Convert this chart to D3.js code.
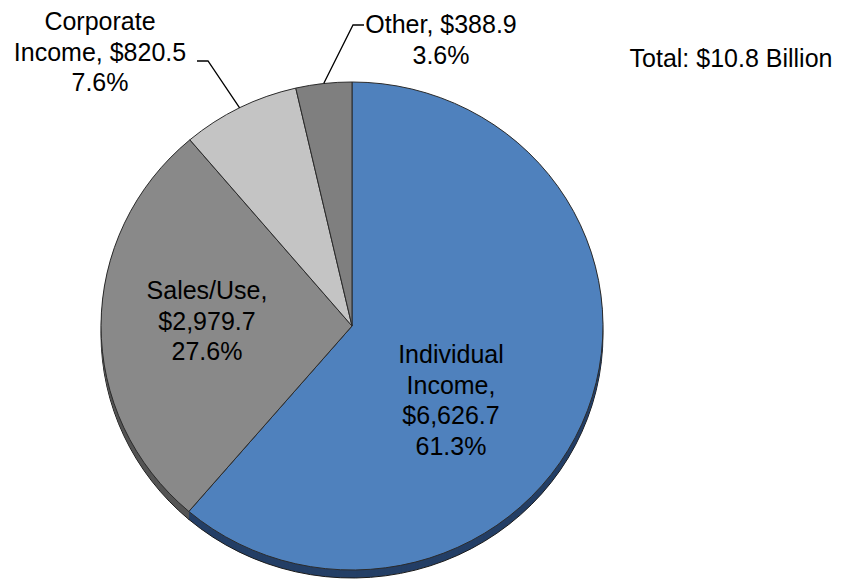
<!DOCTYPE html>
<html>
<head>
<meta charset="utf-8">
<script src="https://cdn.jsdelivr.net/npm/d3@7"></script>
<style>
  html, body { margin: 0; padding: 0; background: #ffffff; }
  svg { display: block; }
  text { font-family: "Liberation Sans", Arial, sans-serif; fill: #000; }
</style>
</head>
<body>
<svg id="chart" width="848" height="582"></svg>
<script>
// Revenue sources (millions of dollars)
const categories = ["Individual Income", "Sales/Use", "Corporate Income", "Other"];
const amounts = [6626.7, 2979.7, 820.5, 388.9];
const percents = [61.3, 27.6, 7.6, 3.6];
const totalLabel = "Total: $10.8 Billion";

const topColors = ["#4f81bd", "#898989", "#c4c4c4", "#7f7f7f"];
const sideColors = ["#243f66", "#555555", "#777777", "#4a4a4a"];

const svg = d3.select("#chart");
const cx = 352, cy = 326, rx = 251, ry = 244, depth = 8;

const fmt = d3.format(",.1f");
const data = categories.map((c, i) => ({ name: c, value: amounts[i], pct: percents[i] }));

const pie = d3.pie().sort(null).value(d => d.value)
  .startAngle(0).endAngle(2 * Math.PI);
const arcs = pie(data);
const arc = d3.arc().innerRadius(0).outerRadius(1);

// side of the disc: stacked dark layers below the top face
for (let k = depth; k >= 1; k--) {
  svg.append("g")
    .attr("transform", `translate(${cx},${cy + k}) scale(${rx},${ry})`)
    .selectAll("path")
    .data(arcs)
    .join("path")
    .attr("d", arc)
    .attr("fill", (d, i) => sideColors[i])
    .attr("stroke", k === depth ? "#1a1a1a" : "none")
    .attr("stroke-width", 1)
    .attr("vector-effect", "non-scaling-stroke");
}

// top face
svg.append("g")
  .attr("transform", `translate(${cx},${cy}) scale(${rx},${ry})`)
  .selectAll("path")
  .data(arcs)
  .join("path")
  .attr("d", arc)
  .attr("fill", (d, i) => topColors[i])
  .attr("stroke", "#2b2b2b")
  .attr("stroke-width", 1)
  .attr("vector-effect", "non-scaling-stroke");

// point on the rim at a slice's middle angle
function rimPoint(a) {
  const m = (a.startAngle + a.endAngle) / 2;
  return [cx + rx * Math.sin(m), cy - ry * Math.cos(m)];
}

const fontSize = 25, lineH = 30.5;
function label(lines, x, yBase) {
  const t = svg.append("text")
    .attr("text-anchor", "middle")
    .attr("font-size", fontSize);
  lines.forEach((s, i) => {
    t.append("tspan").attr("x", x).attr("y", yBase + i * lineH).text(s);
  });
}

const money = v => "$" + fmt(v);

// labels inside the large slices
label(["Individual", "Income,", money(amounts[0]), percents[0].toFixed(1) + "%"], 451, 363);
label(["Sales/Use,", money(amounts[1]), percents[1].toFixed(1) + "%"], 207, 299);

// labels outside with leader lines
label(["Corporate", "Income, " + money(amounts[2]), percents[2].toFixed(1) + "%"], 100, 30);
label([categories[3] + ", " + money(amounts[3]), percents[3].toFixed(1) + "%"], 441, 33);

const leader = d3.line();
const pc = rimPoint(arcs[2]);
svg.append("path")
  .attr("d", leader([[197, 61], [208, 61], pc]))
  .attr("fill", "none").attr("stroke", "#000").attr("stroke-width", 1.3);
const po = rimPoint(arcs[3]);
svg.append("path")
  .attr("d", leader([po, [353, 25], [364, 25]]))
  .attr("fill", "none").attr("stroke", "#000").attr("stroke-width", 1.3);

// total
svg.append("text")
  .attr("x", 731).attr("y", 67)
  .attr("text-anchor", "middle")
  .attr("font-size", fontSize)
  .text(totalLabel);
</script>
</body>
</html>
